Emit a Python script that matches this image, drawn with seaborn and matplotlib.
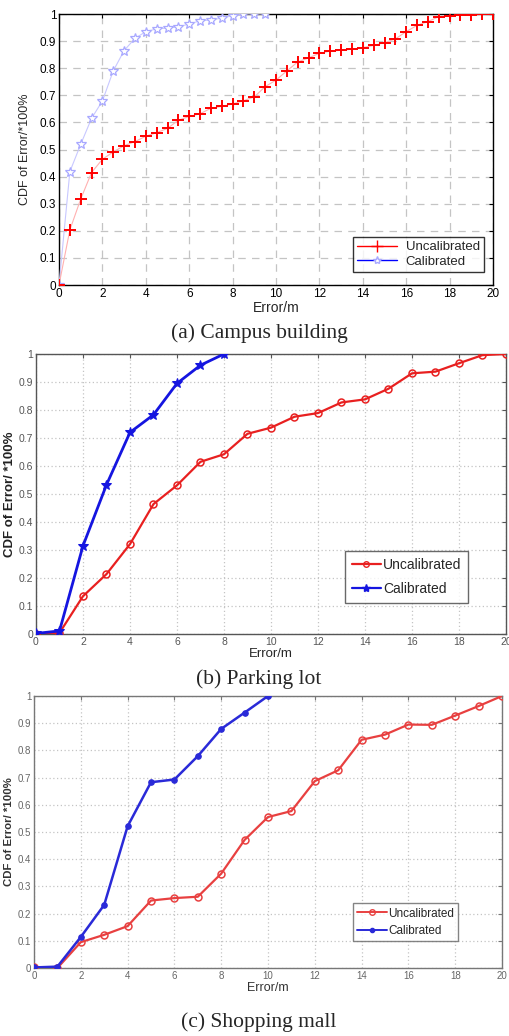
import numpy as np
import pandas as pd
import matplotlib
matplotlib.use("Agg")
import matplotlib.pyplot as plt
import seaborn as sns
from matplotlib.lines import Line2D

# ---------------- data ----------------
a_unc_x = [i * 0.5 for i in range(41)]
a_unc_y = [0.0, 0.203, 0.317, 0.415, 0.464, 0.491, 0.514, 0.529, 0.549, 0.562, 0.578,
           0.608, 0.622, 0.632, 0.652, 0.659, 0.668, 0.680, 0.694, 0.732, 0.756,
           0.790, 0.823, 0.838, 0.855, 0.863, 0.866, 0.870, 0.876, 0.884, 0.894,
           0.908, 0.935, 0.958, 0.972, 0.990, 0.994, 0.996, 0.996, 1.0, 1.0]
a_cal_x = [i * 0.5 for i in range(20)]
a_cal_y = [0.0, 0.418, 0.519, 0.615, 0.679, 0.790, 0.865, 0.910, 0.935, 0.945,
           0.948, 0.953, 0.963, 0.975, 0.978, 0.985, 0.994, 1.0, 1.0, 1.0]

b_unc_x = list(range(21))
b_unc_y = [0.0, 0.004, 0.135, 0.214, 0.321, 0.464, 0.531, 0.615, 0.642, 0.715, 0.737,
           0.776, 0.789, 0.827, 0.838, 0.876, 0.931, 0.937, 0.967, 0.996, 1.0]
b_cal_x = list(range(9))
b_cal_y = [0.002, 0.011, 0.315, 0.533, 0.720, 0.783, 0.895, 0.960, 1.0]

c_unc_x = list(range(21))
c_unc_y = [0.002, 0.0, 0.095, 0.122, 0.154, 0.248, 0.257, 0.262, 0.347, 0.471, 0.555,
           0.577, 0.687, 0.727, 0.839, 0.858, 0.895, 0.894, 0.928, 0.963, 1.0]
c_cal_x = list(range(11))
c_cal_y = [0.002, 0.005, 0.114, 0.232, 0.521, 0.683, 0.693, 0.779, 0.879, 0.939, 1.0]

series_names = ["Uncalibrated", "Calibrated"]
captions = ["(a) Campus building", "(b) Parking lot", "(c) Shopping mall"]
ylabels = ["CDF of Error/*100%", "CDF of Error/ *100%", "CDF of Error/ *100%"]
xlabel = "Error/m"
yticks = [round(0.1 * i, 1) for i in range(11)]
ytick_labels = ["0"] + [f"{v:.1f}" for v in yticks[1:-1]] + ["1"]
xticks = list(range(0, 21, 2))

# ---------------- style ----------------
sns.set_style("white")
plt.rcParams["font.family"] = ["Liberation Sans", "DejaVu Sans"]

fig = plt.figure(figsize=(5.10, 10.36), dpi=100)
W, H = 510.0, 1036.0


def add_ax(left, top, right, bottom):
    return fig.add_axes([left / W, 1 - bottom / H, (right - left) / W, (bottom - top) / H])


ax_a = add_ax(59, 14, 493, 285)
ax_b = add_ax(36, 354, 506, 634)
ax_c = add_ax(34, 696, 502, 968)


def frame(ax, grid_ls, spine_col, tick_col, tick_fs):
    ax.set_xlim(0, 20)
    ax.set_ylim(0, 1)
    ax.set_xticks(xticks)
    ax.set_xticklabels([str(t) for t in xticks])
    ax.set_yticks(yticks)
    ax.set_yticklabels(ytick_labels)
    ax.grid(True, color="#c4c4c4", linestyle=grid_ls, linewidth=0.9)
    for s in ax.spines.values():
        s.set_visible(True)
        s.set_color(spine_col)
        s.set_linewidth(1.0)
    ax.tick_params(direction="in", top=True, right=True, length=3, width=0.8,
                   colors=spine_col, labelcolor=tick_col, labelsize=tick_fs, pad=2)


# ---------- panel (a) ----------
df_a_u = pd.DataFrame({"x": a_unc_x, "y": a_unc_y})
df_a_c = pd.DataFrame({"x": a_cal_x, "y": a_cal_y})
sns.lineplot(data=df_a_c, x="x", y="y", ax=ax_a, color="#c8c8ff", linewidth=0.8,
             marker="*", markersize=7.5, markerfacecolor="white", markeredgecolor="#a8a8ff",
             markeredgewidth=0.9, zorder=3)
sns.lineplot(data=df_a_u, x="x", y="y", ax=ax_a, color="#ffb0b0", linewidth=0.8,
             marker="+", markersize=8.5, markeredgecolor="red", markeredgewidth=1.4, zorder=4)
frame(ax_a, (0, (6, 5)), "black", "black", 8.5)
ax_a.set_xlabel(xlabel, fontsize=10, labelpad=1)
ax_a.set_ylabel(ylabels[0], fontsize=9, labelpad=6)
h_a = [Line2D([], [], color="red", lw=1.0, marker="+", markersize=8, markeredgecolor="red"),
       Line2D([], [], color="blue", lw=1.0, marker="*", markersize=6,
              markerfacecolor="white", markeredgecolor="#a8a8ff")]
leg = ax_a.legend(h_a, series_names, loc="lower right", bbox_to_anchor=(0.979, 0.048),
                  borderaxespad=0, frameon=True, fancybox=False, edgecolor="black",
                  fontsize=9.5, handlelength=3.0, borderpad=0.3, labelspacing=0.2,
                  handletextpad=0.7)
leg.get_frame().set_linewidth(1.0)

# ---------- panel (b) ----------
df_b_u = pd.DataFrame({"x": b_unc_x, "y": b_unc_y})
df_b_c = pd.DataFrame({"x": b_cal_x, "y": b_cal_y})
sns.lineplot(data=df_b_u, x="x", y="y", ax=ax_b, color="#e82020", linewidth=1.6,
             marker="o", markersize=5, markerfacecolor="none", markeredgecolor="#e82020",
             markeredgewidth=1.1, zorder=3)
sns.lineplot(data=df_b_c, x="x", y="y", ax=ax_b, color="#1515e0", linewidth=2.0,
             marker="*", markersize=7, markeredgecolor="#1515e0", zorder=4)
frame(ax_b, (0, (1, 2)), "#555555", "#555555", 7.5)
ax_b.set_xlabel(xlabel, fontsize=9.5, labelpad=1)
ax_b.set_ylabel(ylabels[1], fontsize=9.5, fontweight="bold", color="#222222", labelpad=2)
h_b = [Line2D([], [], color="#e82020", lw=1.6, marker="o", markersize=4,
              markerfacecolor="none", markeredgecolor="#e82020"),
       Line2D([], [], color="#1515e0", lw=1.6, marker="*", markersize=6,
              markeredgecolor="#1515e0")]
leg = ax_b.legend(h_b, series_names, loc="lower left", bbox_to_anchor=(0.657, 0.111),
                  borderaxespad=0, frameon=True, fancybox=False, edgecolor="#444444",
                  fontsize=10, handlelength=2.1, borderpad=0.5, labelspacing=0.75,
                  handletextpad=0.15)
leg.get_frame().set_linewidth(1.0)

# ---------- panel (c) ----------
df_c_u = pd.DataFrame({"x": c_unc_x, "y": c_unc_y})
df_c_c = pd.DataFrame({"x": c_cal_x, "y": c_cal_y})
sns.lineplot(data=df_c_u, x="x", y="y", ax=ax_c, color="#e84040", linewidth=1.6,
             marker="o", markersize=5, markerfacecolor="none", markeredgecolor="#e84040",
             markeredgewidth=1.1, zorder=3)
sns.lineplot(data=df_c_c, x="x", y="y", ax=ax_c, color="#2a2ad8", linewidth=1.8,
             marker="o", markersize=4, markeredgecolor="#2a2ad8", zorder=4)
frame(ax_c, (0, (1, 2)), "#777777", "#666666", 7)
ax_c.set_xlabel(xlabel, fontsize=9, labelpad=1, color="#333333")
ax_c.set_ylabel(ylabels[2], fontsize=8.2, fontweight="bold", color="#333333", labelpad=3)
h_c = [Line2D([], [], color="#e84040", lw=1.4, marker="o", markersize=4,
              markerfacecolor="none", markeredgecolor="#e84040"),
       Line2D([], [], color="#2a2ad8", lw=1.4, marker="o", markersize=3,
              markeredgecolor="#2a2ad8")]
leg = ax_c.legend(h_c, series_names, loc="lower left", bbox_to_anchor=(0.682, 0.099),
                  borderaxespad=0, frameon=True, fancybox=False, edgecolor="#666666",
                  fontsize=8.5, handlelength=2.5, borderpad=0.35, labelspacing=0.45,
                  handletextpad=0.1)
leg.get_frame().set_linewidth(1.0)

# ---------- captions ----------
for txt, yc in zip(captions, [333, 679, 1022]):
    fig.text(259 / W, 1 - yc / H, txt, ha="center", va="center",
             fontsize=15.5, family=["Liberation Serif", "DejaVu Serif"])

fig.savefig("out.png", dpi=100, facecolor="white")
